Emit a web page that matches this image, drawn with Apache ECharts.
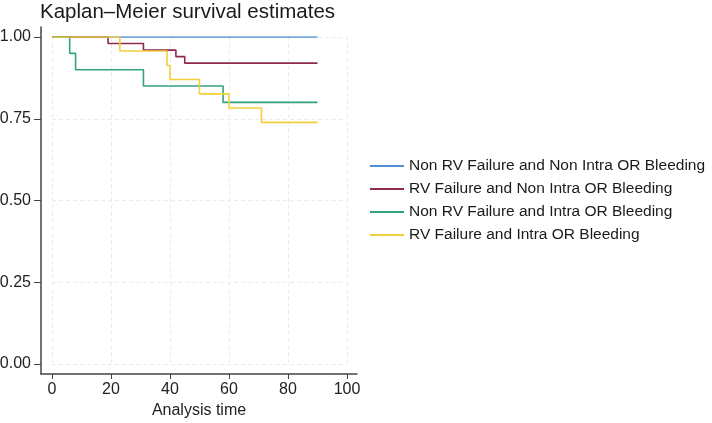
<!DOCTYPE html>
<html>
<head>
    <meta charset="utf-8">
    <title>Kaplan-Meier</title>
    <script src="https://cdn.jsdelivr.net/npm/echarts@6/dist/echarts.min.js"></script>
</head>
<body style="margin:0">
    <div id="main" style="width: 712px;height:423px;"></div>
    <script type="text/javascript">
        // survival curves (time, survival)
        var names = [
            'Non RV Failure and Non Intra OR Bleeding',
            'RV Failure and Non Intra OR Bleeding',
            'Non RV Failure and Intra OR Bleeding',
            'RV Failure and Intra OR Bleeding'
        ];
        var colors = ['#4f8fd6', '#8e2a50', '#33a27f', '#f3cf3c'];

        var timesA = [0, 90];
        var survA = [1, 1];
        var timesB = [0, 19, 31, 42, 45, 90];
        var survB = [1, 0.98, 0.96, 0.94, 0.92, 0.92];
        var timesC = [0, 6, 8, 31, 58, 90];
        var survC = [1, 0.95, 0.90, 0.85, 0.80, 0.80];
        var timesD = [0, 23, 39, 40, 50, 60, 71, 90];
        var survD = [1, 0.957, 0.913, 0.870, 0.826, 0.783, 0.739, 0.739];

        var xTicks = [0, 20, 40, 60, 80, 100];
        var yTicks = [0, 0.25, 0.5, 0.75, 1];

        function pairs(t, s) {
            return t.map(function (v, i) { return [v, s[i]]; });
        }

        var curves = [pairs(timesA, survA), pairs(timesB, survB), pairs(timesC, survC), pairs(timesD, survD)];

        var font = 'Liberation Sans, Arial, sans-serif';
        var myChart = echarts.init(document.getElementById('main'));

        // inner grid (data, 0..100 x 0..1) sits 10-11px inside the outer frame
        var inner = { l: 52, r: 347, t: 37, b: 364 };
        var outer = { l: 41, r: 357, t: 27, b: 374 };
        var px = (inner.r - inner.l) / 100;
        var py = (inner.b - inner.t) / 1;

        var option = {
            backgroundColor: '#fff',
            title: {
                text: 'Kaplan–Meier survival estimates',
                left: 40, top: 0, padding: [2, 0, 0, 0],
                textStyle: { fontSize: 20.5, fontWeight: 'normal', color: '#1a1a1a', fontFamily: font }
            },
            legend: {
                orient: 'vertical',
                left: 370, top: 158, padding: 0,
                itemWidth: 34, itemHeight: 2, itemGap: 7,
                icon: 'rect',
                data: names,
                textStyle: { fontSize: 15.5, color: '#1a1a1a', fontFamily: font }
            },
            grid: [
                { left: inner.l, right: 712 - inner.r, top: inner.t, bottom: 423 - inner.b, outerBoundsMode: 'none' },
                { left: outer.l, right: 712 - outer.r, top: outer.t, bottom: 423 - outer.b, outerBoundsMode: 'none' }
            ],
            xAxis: [{
                gridIndex: 0, type: 'value', min: 0, max: 100, interval: 20,
                axisLine: { show: false }, axisTick: { show: false }, axisLabel: { show: false },
                splitLine: { show: true, lineStyle: { color: '#ebebeb', type: [4, 3] } }
            }, {
                gridIndex: 1, type: 'value',
                min: -(inner.l - outer.l) / px, max: 100 + (outer.r - inner.r) / px,
                axisLine: { show: true, onZero: false, lineStyle: { color: '#444', width: 1.5 } },
                axisTick: { show: true, length: 5, customValues: xTicks, lineStyle: { color: '#444' } },
                axisLabel: { margin: 8, fontSize: 16, color: '#222', fontFamily: font, customValues: xTicks },
                splitLine: { show: false },
                name: 'Analysis time', nameLocation: 'middle', nameGap: 27,
                nameTextStyle: { fontSize: 16, color: '#222', fontFamily: font }
            }],
            yAxis: [{
                gridIndex: 0, type: 'value', min: 0, max: 1, interval: 0.25,
                axisLine: { show: false }, axisTick: { show: false }, axisLabel: { show: false },
                splitLine: { show: true, lineStyle: { color: '#ebebeb', type: [4, 3] } }
            }, {
                gridIndex: 1, type: 'value',
                min: -(outer.b - inner.b) / py, max: 1 + (inner.t - outer.t) / py,
                axisLine: { show: true, onZero: false, lineStyle: { color: '#444', width: 1.5 } },
                axisTick: { show: true, length: 7, customValues: yTicks, lineStyle: { color: '#444' } },
                axisLabel: {
                    margin: 10, fontSize: 16, color: '#222', fontFamily: font, customValues: yTicks,
                    formatter: function (v) { return v.toFixed(2); }
                },
                splitLine: { show: false }
            }],
            series: curves.map(function (d, i) {
                return {
                    name: names[i],
                    type: 'line',
                    step: 'end',
                    xAxisIndex: 0, yAxisIndex: 0,
                    data: d,
                    showSymbol: false,
                    color: colors[i],
                    lineStyle: { width: 1.6, color: colors[i] },
                    animation: false
                };
            })
        };

        myChart.setOption(option);
    </script>
</body>
</html>
